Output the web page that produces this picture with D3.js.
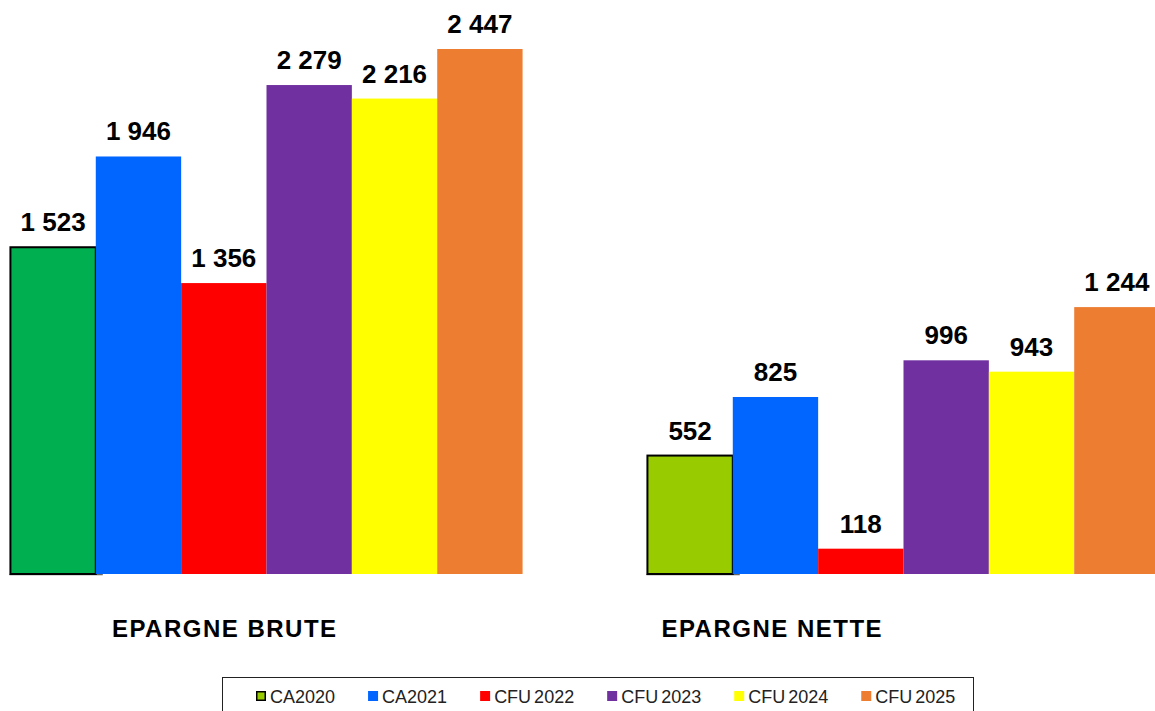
<!DOCTYPE html>
<html>
<head>
<meta charset="utf-8">
<script src="https://cdn.jsdelivr.net/npm/d3@7"></script>
<style>
  html, body { margin: 0; padding: 0; background: #fff; overflow: hidden; }
  svg { display: block; font-family: "Liberation Sans", Arial, sans-serif; }
</style>
</head>
<body>
<svg id="chart" width="1155" height="711"></svg>
<script>
// ---- data ----
const categories = ["EPARGNE BRUTE", "EPARGNE NETTE"];
const seriesNames = ["CA2020", "CA2021", "CFU 2022", "CFU 2023", "CFU 2024", "CFU 2025"];
const epargneBrute = [1523, 1946, 1356, 2279, 2216, 2447];
const epargneNette = [552, 825, 118, 996, 943, 1244];
const seriesColors = ["#99CC00", "#0066FF", "#FF0000", "#7030A0", "#FFFF00", "#ED7D31"];
const firstBarColors = ["#00B050", "#99CC00"]; // per-point override for CA2020 in each group

const values = [epargneBrute, epargneNette];

// ---- layout ----
const svg = d3.select("#chart");
const baseY = 574;
const topY = 49;

const x0 = d3.scaleBand().domain(categories).range([-52, 1222])
  .paddingInner(0.196).paddingOuter(0.098);
const x1 = d3.scaleBand().domain(seriesNames).range([0, x0.bandwidth()]).padding(0);
const y = d3.scaleLinear().domain([0, d3.max(epargneBrute)]).range([baseY, topY]);
const xLabel = d3.scaleBand().domain(categories).range([-49, 1046]);

const fmt = d3.formatLocale({ decimal: ",", thousands: "\u00a0", grouping: [3], currency: ["", "€"] }).format(",d");

const rows = categories.map((c, gi) => ({ cat: c, gi, vals: values[gi] }));

const groups = svg.selectAll("g.grp").data(rows).join("g")
  .attr("class", "grp")
  .attr("transform", d => `translate(${x0(d.cat)},0)`);

// shadow line under first (outlined) bar
groups.append("line")
  .attr("x1", -1).attr("x2", x1.bandwidth() + 7)
  .attr("y1", baseY + 0.5).attr("y2", baseY + 0.5)
  .attr("stroke", "#666").attr("stroke-width", 1.5);

groups.selectAll("rect.bar")
  .data(d => d.vals.map((v, i) => ({ v, i, gi: d.gi, name: seriesNames[i] })))
  .join("rect")
  .attr("class", "bar")
  .attr("x", d => x1(d.name))
  .attr("y", d => y(d.v))
  .attr("width", x1.bandwidth())
  .attr("height", d => baseY - y(d.v))
  .attr("fill", d => d.i === 0 ? firstBarColors[d.gi] : seriesColors[d.i])
  .attr("stroke", d => d.i === 0 ? "#000" : "none")
  .attr("stroke-width", 2);

groups.selectAll("text.val")
  .data(d => d.vals.map((v, i) => ({ v, i, name: seriesNames[i] })))
  .join("text")
  .attr("class", "val")
  .attr("x", d => x1(d.name) + x1.bandwidth() / 2)
  .attr("y", d => y(d.v) - 16)
  .attr("text-anchor", "middle")
  .attr("font-size", 26)
  .attr("font-weight", "bold")
  .attr("fill", "#000")
  .text(d => fmt(d.v));

// category labels
svg.selectAll("text.cat").data(categories).join("text")
  .attr("class", "cat")
  .attr("x", d => xLabel(d) + xLabel.bandwidth() / 2)
  .attr("y", 637)
  .attr("text-anchor", "middle")
  .attr("font-size", 24)
  .attr("font-weight", "bold")
  .attr("letter-spacing", 1.5)
  .attr("fill", "#000")
  .text(d => d);

// legend
svg.append("rect")
  .attr("x", 222.5).attr("y", 677.5)
  .attr("width", 751).attr("height", 45)
  .attr("fill", "#fff").attr("stroke", "#222").attr("stroke-width", 1);

let lx = 256;
seriesNames.forEach((name, i) => {
  const g = svg.append("g").attr("transform", `translate(${lx},0)`);
  g.append("rect")
    .attr("x", i === 0 ? 0.75 : 0).attr("y", i === 0 ? 691.75 : 691)
    .attr("width", i === 0 ? 8.5 : 10).attr("height", i === 0 ? 8.5 : 10)
    .attr("fill", seriesColors[i])
    .attr("stroke", i === 0 ? "#000" : "none")
    .attr("stroke-width", 1.5);
  const t = g.append("text")
    .attr("x", 14).attr("y", 703)
    .attr("font-size", 18)
    .attr("fill", "#222")
    .attr("word-spacing", -2)
    .text(name);
  const w = t.node().getComputedTextLength();
  lx += 14 + w + 33;
});
</script>
</body>
</html>
